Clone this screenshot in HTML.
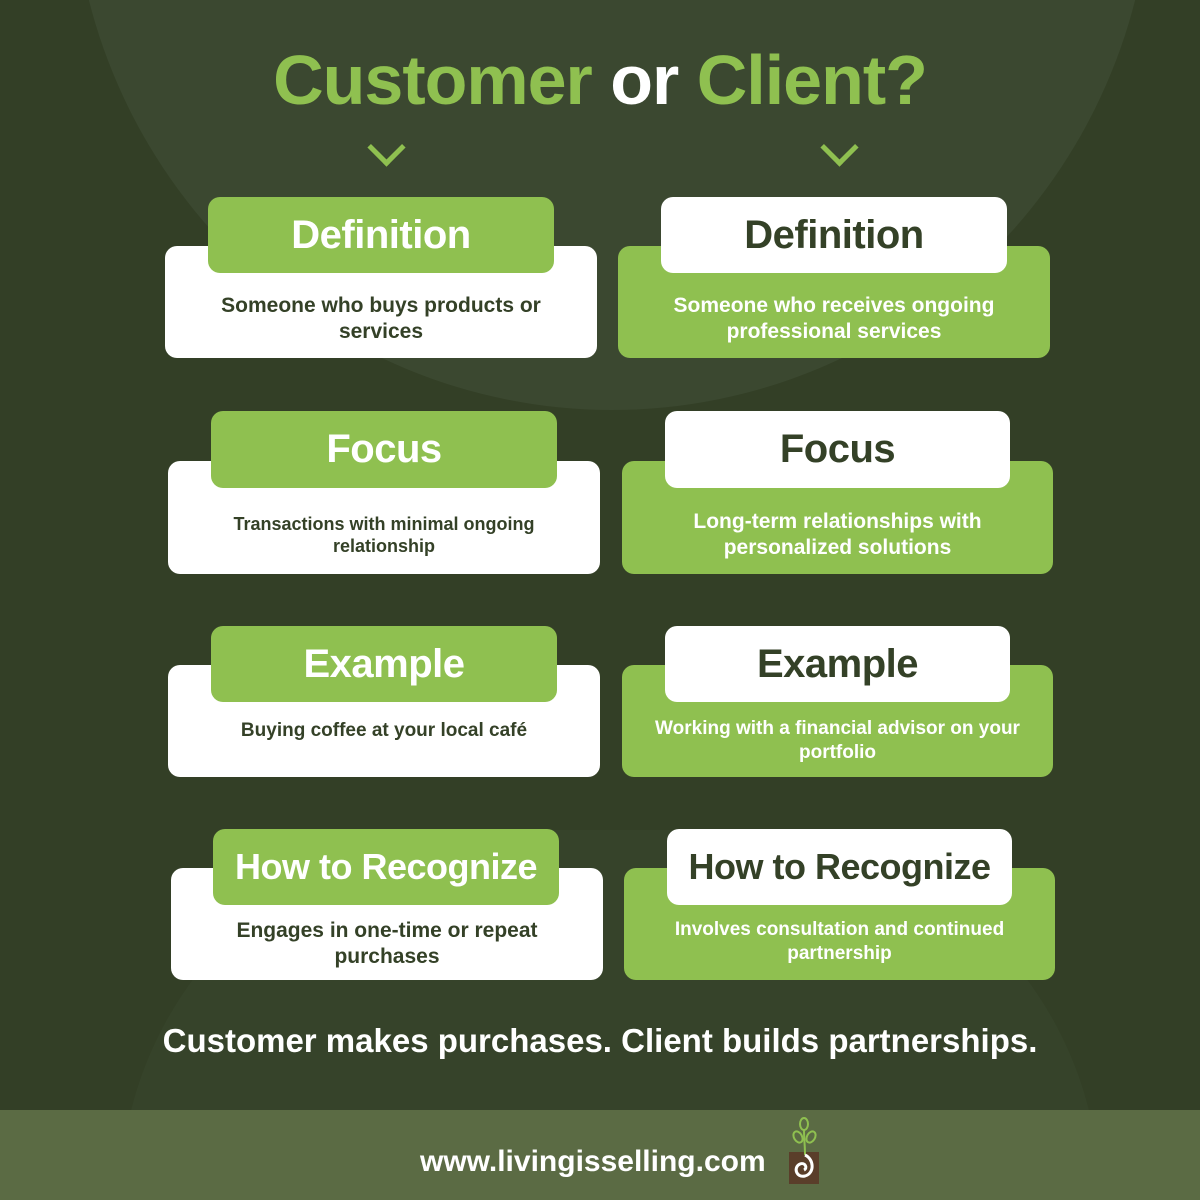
<!DOCTYPE html>
<html><head><meta charset="utf-8"><style>
html,body{margin:0;padding:0;width:1200px;height:1200px;overflow:hidden}
#r{position:relative;width:1200px;height:1200px;overflow:hidden;background:#333f26;font-family:"Liberation Sans",sans-serif}
.c{position:absolute;border-radius:50%;background:#3b4830}
.b{position:absolute;border-radius:12px;display:flex;align-items:center;justify-content:center;text-align:center;font-weight:bold;box-sizing:border-box}
.w{background:#fff;color:#344127}
.g{background:#8fc050;color:#fff}
.t{font-size:40px;letter-spacing:-0.5px}
.d{font-size:21px;line-height:26px;padding:34px 40px 0}
.chev{position:absolute;width:22px;height:22px;border-right:5px solid #8fc050;border-bottom:5px solid #8fc050;transform:rotate(45deg)}
</style></head><body><div id="r">
<div class="c" style="left:72px;top:-680px;width:1080px;height:1090px"></div>
<div class="c" style="left:120px;top:830px;width:980px;height:370px;border-radius:490px 490px 0 0;background:#36432a"></div>
<div style="position:absolute;left:0;top:1110px;width:1200px;height:90px;background:#5b6b44"></div>
<div style="position:absolute;left:0;top:40px;width:1200px;text-align:center;font-size:70px;font-weight:bold;color:#8fc050;letter-spacing:-1px">Customer <span style="color:#fff">or</span> Client?</div>
<div class="chev" style="left:373px;top:134px"></div>
<div class="chev" style="left:826px;top:134px"></div>

<div class="b w d" style="left:165px;top:246px;width:432px;height:112px">Someone who buys products or services</div>
<div class="b g t" style="left:208px;top:197px;width:346px;height:76px">Definition</div>
<div class="b g d" style="left:618px;top:246px;width:432px;height:112px">Someone who receives ongoing professional services</div>
<div class="b w t" style="left:661px;top:197px;width:346px;height:76px">Definition</div>

<div class="b w d" style="left:168px;top:461px;width:432px;height:113px;font-size:18px;line-height:22px">Transactions with minimal ongoing relationship</div>
<div class="b g t" style="left:211px;top:411px;width:346px;height:77px">Focus</div>
<div class="b g d" style="left:622px;top:461px;width:431px;height:113px">Long-term relationships with personalized solutions</div>
<div class="b w t" style="left:665px;top:411px;width:345px;height:77px">Focus</div>

<div class="b w d" style="left:168px;top:665px;width:432px;height:112px;font-size:19px;padding-top:20px">Buying coffee at your local café</div>
<div class="b g t" style="left:211px;top:626px;width:346px;height:76px">Example</div>
<div class="b g d" style="left:622px;top:665px;width:431px;height:112px;font-size:19px;line-height:24px;padding:40px 16px 0">Working with a financial advisor on your portfolio</div>
<div class="b w t" style="left:665px;top:626px;width:345px;height:76px">Example</div>

<div class="b w d" style="left:171px;top:868px;width:432px;height:112px;padding-top:40px">Engages in one-time or repeat purchases</div>
<div class="b g t" style="left:213px;top:829px;width:346px;height:76px;font-size:36px">How to Recognize</div>
<div class="b g d" style="left:624px;top:868px;width:431px;height:112px;font-size:19px;line-height:24px;padding:36px 30px 0">Involves consultation and continued partnership</div>
<div class="b w t" style="left:667px;top:829px;width:345px;height:76px;font-size:36px">How to Recognize</div>

<div style="position:absolute;left:0;top:1022px;width:1200px;text-align:center;font-size:33px;font-weight:bold;color:#fff">Customer makes purchases. Client builds partnerships.</div>
<div style="position:absolute;left:420px;top:1145px;font-size:30px;font-weight:bold;color:#fff">www.livingisselling.com</div>
<svg style="position:absolute;left:786px;top:1115px" width="40" height="72" viewBox="0 0 40 72">
<rect x="3" y="37" width="30" height="32" fill="#5a3e2a"/>
<path d="M19 40 C19 30 18 25 18 15" stroke="#8fc050" stroke-width="2" fill="none"/>
<ellipse cx="12" cy="22" rx="4" ry="6" fill="none" stroke="#8fc050" stroke-width="2" transform="rotate(-30 12 22)"/>
<ellipse cx="25" cy="22" rx="4" ry="6" fill="none" stroke="#8fc050" stroke-width="2" transform="rotate(30 25 22)"/>
<ellipse cx="18" cy="9" rx="4" ry="6" fill="none" stroke="#8fc050" stroke-width="2"/>
<path d="M19 40 C28 44 29 58 19 61 C10 63 7 52 14 49 C19 47 22 53 18 55" stroke="#fff" stroke-width="3" fill="none"/>
</svg>
</div></body></html>
